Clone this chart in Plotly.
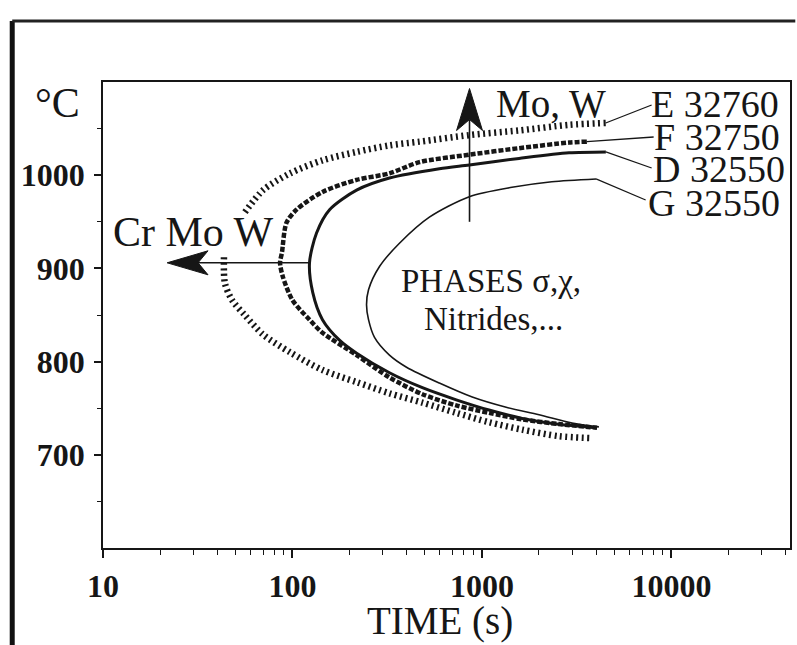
import numpy as np
import plotly.graph_objects as go

# --- TTT curves: time (s) / temperature (°C), read along each C-curve
# from the upper branch end, through the nose, to the lower branch end
e_time = [4500, 2880, 1570, 858, 468, 325, 218, 144, 97, 70, 56, None,
          43.5, 44, 48, 56, 70, 97, 144, 218, 325, 485, 732, 1090, 1630, 2550, 3760]
e_temp = [1056, 1054, 1048, 1043, 1036, 1032, 1025, 1016, 1002, 984, 960, None,
          912, 884, 866, 850, 829, 810, 791, 778, 766, 756, 745, 735, 727, 720, 718]

f_time = [3580, 2880, 1570, 858, 468, 325, 218, 144, 105, 93, 88, 86, 89, 100,
          123, 144, 218, 325, 485, 732, 1090, 1630, 2550, 4050]
f_temp = [1036, 1035, 1029, 1022, 1014, 1002, 995, 982, 963, 949, 917, 906, 891, 866,
          845, 831, 807, 783, 765, 753, 745, 738, 733, 729]

d_time = [4510, 2880, 1570, 858, 596, 325, 218, 157, 134, 123, 128, 144, 177, 218,
          325, 485, 732, 1090, 1630, 2460, 4050]
d_temp = [1025, 1024, 1018, 1011, 1007, 997, 984, 963, 938, 906, 874, 845, 823, 809,
          788, 772, 759, 748, 739, 733, 729]

g_time = [4000, 2340, 1440, 858, 528, 367, 288, 252, 246, 252, 271, 325, 400, 596,
          889, 1343, 2003, 2987, 4143]
g_temp = [996, 993, 987, 977, 955, 927, 902, 877, 861, 845, 826, 807, 794, 777,
          762, 751, 743, 734, 730]

curve_labels = ["E 32760", "F 32750", "D 32550", "G 32550"]

x_tickvals = [10, 100, 1000, 10000]
x_ticktext = ["10", "100", "1000", "10000"]
y_tickvals = [700, 800, 900, 1000]
y_ticktext = ["700", "800", "900", "1000"]

# arrows: alloying-element shifts
mo_w_arrow_time = 860          # vertical arrow position (s)
mo_w_arrow_temps = (950, 1093)  # from, to (°C)
cr_arrow_temp = 906            # horizontal arrow level (°C)
cr_arrow_times = (123, 21.8)   # from, to (s)

# --- figure geometry
W, H = 797, 645
L, R, T, B = 103, 791.7, 82, 548
X0, X1 = 1.0, 4.626      # log10 range
Y0, Y1 = 600, 1100

INK = "#161616"
SERIF = "Liberation Serif"


def to_px(t, temp):
    x = L + (np.log10(t) - X0) * (R - L) / (X1 - X0)
    y = B - (temp - Y0) * (B - T) / (Y1 - Y0)
    return x, y


def to_data(x, y):
    t = 10 ** (X0 + (x - L) * (X1 - X0) / (R - L))
    temp = Y0 + (B - y) * (Y1 - Y0) / (B - T)
    return t, temp


def px_paper(x, y):
    return (x - L) / (R - L), (B - y) / (B - T)


def head(tip_t, tip_temp, direction, length=41, half=12, notch=10):
    """Filled dart-shaped arrowhead; direction 'up' or 'left'."""
    tx, ty = to_px(tip_t, tip_temp)
    if direction == "up":
        pts = [(tx, ty), (tx - half, ty + length), (tx, ty + length - notch),
               (tx + half, ty + length), (tx, ty)]
    else:
        pts = [(tx, ty), (tx + length, ty - half), (tx + length - notch, ty),
               (tx + length, ty + half), (tx, ty)]
    d = [to_data(px, py) for px, py in pts]
    return [p[0] for p in d], [p[1] for p in d], pts[2]


fig = go.Figure()

# C-curves
fig.add_trace(go.Scatter(x=e_time, y=e_temp, mode="lines",
                         line=dict(color=INK, width=6.5, dash="2px,3.5px", shape="spline", smoothing=0.8)))
fig.add_trace(go.Scatter(x=f_time, y=f_temp, mode="lines",
                         line=dict(color=INK, width=4.5, dash="5px,2px", shape="spline", smoothing=0.8)))
fig.add_trace(go.Scatter(x=d_time, y=d_temp, mode="lines",
                         line=dict(color=INK, width=3, shape="spline", smoothing=0.8)))
fig.add_trace(go.Scatter(x=g_time, y=g_temp, mode="lines",
                         line=dict(color=INK, width=1.6, shape="spline", smoothing=0.8)))

# label leaders
label_px = [(653, 105), (655, 137), (653, 168), (647, 200)]
ends = [(e_time[0], e_temp[0]), (f_time[0], f_temp[0]), (d_time[0], d_temp[0]), (g_time[0], g_temp[0])]
for (lx, ly), (et, eT) in zip(label_px, ends):
    lt, lT = to_data(lx, ly)
    fig.add_trace(go.Scatter(x=[et, lt], y=[eT, lT], mode="lines",
                             line=dict(color=INK, width=1.3)))

# vertical arrow (Mo, W)
hx, hy, notch_px = head(mo_w_arrow_time, mo_w_arrow_temps[1], "up", length=42, half=13, notch=11)
_, notch_temp = to_data(*notch_px)
fig.add_trace(go.Scatter(x=[mo_w_arrow_time, mo_w_arrow_time], y=[mo_w_arrow_temps[0], notch_temp],
                         mode="lines", line=dict(color=INK, width=1.6)))
fig.add_trace(go.Scatter(x=hx, y=hy, mode="lines", fill="toself", fillcolor=INK,
                         line=dict(color=INK, width=1)))

# horizontal arrow (Cr Mo W)
hx, hy, notch_px = head(cr_arrow_times[1], cr_arrow_temp, "left", length=41, half=12, notch=10)
notch_t, _ = to_data(*notch_px)
fig.add_trace(go.Scatter(x=[cr_arrow_times[0], notch_t], y=[cr_arrow_temp, cr_arrow_temp],
                         mode="lines", line=dict(color=INK, width=1.4)))
fig.add_trace(go.Scatter(x=hx, y=hy, mode="lines", fill="toself", fillcolor=INK,
                         line=dict(color=INK, width=1)))

annotations = []


def text(s, x, y, size, xanchor="center", yanchor="middle"):
    px, py = px_paper(x, y)
    annotations.append(dict(text=s, x=px, y=py, xref="paper", yref="paper",
                            xanchor=xanchor, yanchor=yanchor, showarrow=False,
                            font=dict(family=SERIF, size=size, color=INK)))


for s, (x, y) in zip(curve_labels, [(650, 104), (653, 137), (652, 169), (647, 203)]):
    text(s, x, y, 38, xanchor="left")
text("Mo, W", 495, 104, 39, xanchor="left")
text("Cr Mo W", 194, 232, 42)
text("PHASES σ,χ,", 400, 281, 33, xanchor="left")
text("Nitrides,...", 423, 319, 33, xanchor="left")
text("°C", 57, 103, 42)
text("TIME (s)", 441, 645, 39, yanchor="bottom")

# outer page frame
fx0, fy0 = px_paper(12, 21)
fx1, _ = px_paper(797, 21)
_, fyb = px_paper(12, 645)
shapes = [
    dict(type="line", xref="paper", yref="paper", x0=fx0, x1=fx0, y0=fy0, y1=fyb,
         line=dict(color="#111", width=5)),
    dict(type="line", xref="paper", yref="paper", x0=fx0, x1=fx1, y0=fy0, y1=fy0,
         line=dict(color="#222", width=3)),
]

minor_x = [m * 10 ** k for k in range(1, 5) for m in range(2, 10)]
tick_font = dict(family=SERIF, size=32, color=INK, weight="bold")

fig.update_layout(
    width=W, height=H,
    margin=dict(l=L, r=W - R, t=T, b=H - B),
    paper_bgcolor="white", plot_bgcolor="white",
    showlegend=False,
    annotations=annotations,
    shapes=shapes,
    font=dict(family=SERIF, color=INK),
    xaxis=dict(type="log", range=[X0, X1], tickmode="array",
               tickvals=x_tickvals, ticktext=x_ticktext,
               ticks="outside", ticklen=8, tickwidth=1.5, tickcolor=INK,
               minor=dict(tickvals=minor_x, ticks="outside", ticklen=5, tickwidth=1.2, tickcolor=INK),
               showline=True, linecolor=INK, linewidth=1.6, mirror=True,
               showgrid=False, zeroline=False,
               tickfont=tick_font, ticklabelstandoff=1),
    yaxis=dict(range=[Y0, Y1], tickmode="array",
               tickvals=y_tickvals, ticktext=y_ticktext,
               ticks="outside", ticklen=7, tickwidth=1.5, tickcolor=INK,
               minor=dict(tickvals=[650, 750, 850, 950, 1050], ticks="outside", ticklen=4,
                          tickwidth=1.2, tickcolor=INK),
               showline=True, linecolor=INK, linewidth=1.8, mirror=True,
               showgrid=False, zeroline=False,
               tickfont=tick_font, ticklabelstandoff=3),
)

fig.write_html("out.html")
